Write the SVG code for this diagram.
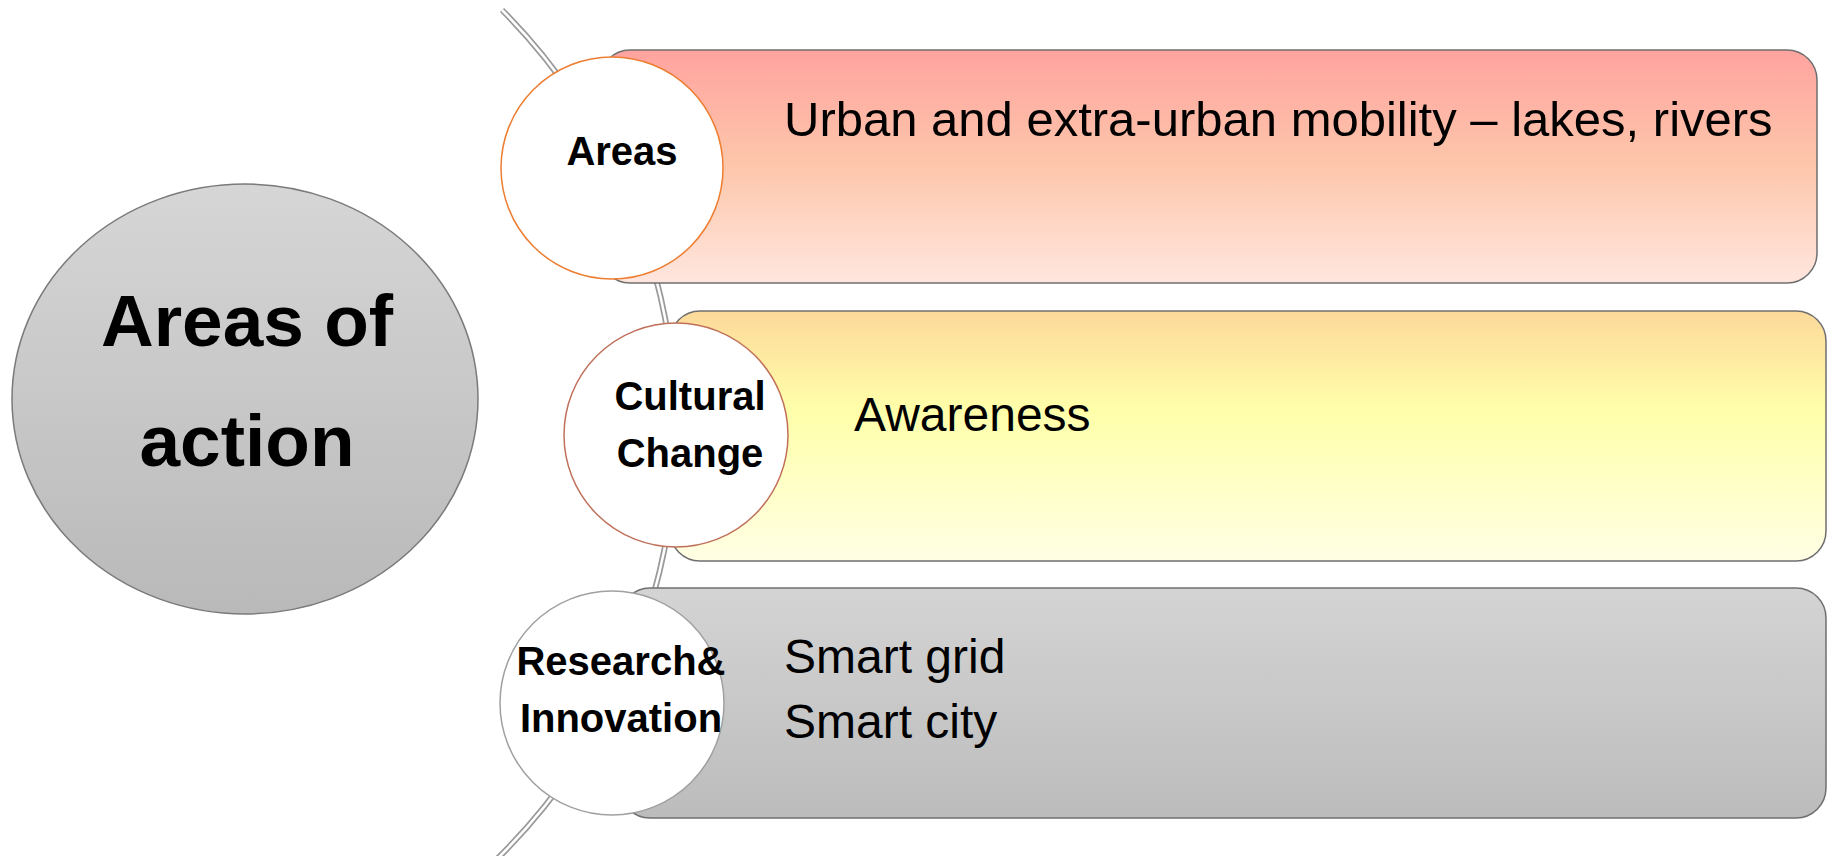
<svg xmlns="http://www.w3.org/2000/svg" width="1827" height="856" viewBox="0 0 1827 856">
<defs>
<linearGradient id="gMain" x1="0" y1="0" x2="0" y2="1"><stop offset="0" stop-color="#d6d6d6"/><stop offset="1" stop-color="#b9b9b9"/></linearGradient>
<linearGradient id="g1" x1="0" y1="0" x2="0" y2="1"><stop offset="0" stop-color="#ffa39f"/><stop offset="0.5" stop-color="#fdc7ab"/><stop offset="1" stop-color="#ffe6de"/></linearGradient>
<linearGradient id="g2" x1="0" y1="0" x2="0" y2="1"><stop offset="0" stop-color="#fdd99a"/><stop offset="0.4" stop-color="#ffffaa"/><stop offset="1" stop-color="#fffee4"/></linearGradient>
<linearGradient id="g3" x1="0" y1="0" x2="0" y2="1"><stop offset="0" stop-color="#d4d4d4"/><stop offset="1" stop-color="#bcbcbc"/></linearGradient>
</defs>
<style>
.bar{stroke:#6f6f6f;stroke-width:1.5}
.circ{fill:#ffffff;stroke-width:1.5}
.lbl{font-family:"Liberation Sans",Arial,sans-serif;font-weight:bold;font-size:40px;fill:#000;text-anchor:middle}
.txt{font-family:"Liberation Sans",Arial,sans-serif;font-size:48px;fill:#000}
.main{font-family:"Liberation Sans",Arial,sans-serif;font-weight:bold;font-size:73px;fill:#000;text-anchor:middle}
</style>
<g id="connectors">
<path d="M 502 10 A 599 599 0 0 1 496 860" fill="none" stroke="#9a9a9a" stroke-width="6"/>
<path d="M 502 10 A 599 599 0 0 1 496 860" fill="none" stroke="#ffffff" stroke-width="2.5"/>
</g>
<g id="main">
<ellipse cx="245" cy="399" rx="233" ry="215" fill="url(#gMain)" stroke="#7a7a7a" stroke-width="1.5"/>
<text class="main" x="247" y="346">Areas of</text>
<text class="main" x="247" y="466">action</text>
</g>
<g id="row1">
<rect class="bar" x="600" y="50" width="1217" height="233" rx="30" fill="url(#g1)"/>
<text class="txt" x="784" y="136" style="font-size:49px">Urban and extra-urban mobility – lakes, rivers</text>
</g>
<g id="row2">
<rect class="bar" x="670" y="311" width="1156" height="250" rx="30" fill="url(#g2)" stroke="#7c7c66"/>
<text class="txt" x="854" y="431">Awareness</text>
</g>
<g id="row3">
<rect class="bar" x="620" y="588" width="1206" height="230" rx="30" fill="url(#g3)"/>
<text class="txt" x="784" y="673">Smart grid</text>
<text class="txt" x="784" y="738">Smart city</text>
</g>
<g id="areas">
<circle class="circ" cx="612" cy="168" r="111" stroke="#ed7d31"/>
<text class="lbl" x="622" y="165">Areas</text>
</g>
<g id="cultural">
<circle class="circ" cx="676" cy="435" r="112" stroke="#c0705a"/>
<text class="lbl" x="690" y="410">Cultural</text>
<text class="lbl" x="690" y="467">Change</text>
</g>
<g id="research">
<circle class="circ" cx="612" cy="703" r="112" stroke="#a0a0a0"/>
<text class="lbl" x="621" y="675">Research&amp;</text>
<text class="lbl" x="621" y="732">Innovation</text>
</g>
</svg>
